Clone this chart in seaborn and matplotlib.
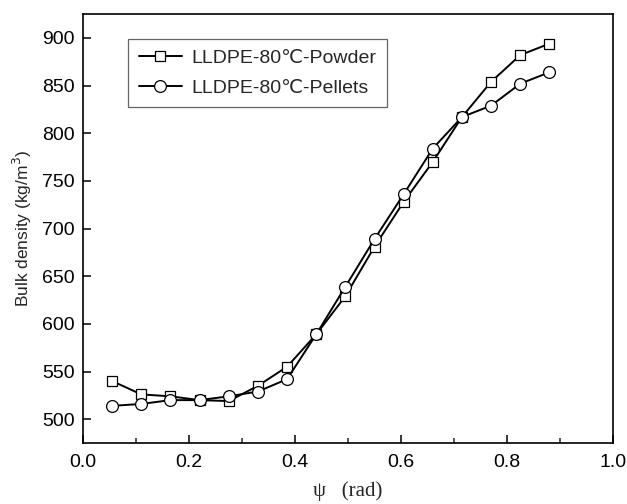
import matplotlib
matplotlib.use("Agg")
import matplotlib.pyplot as plt
from matplotlib.ticker import MultipleLocator
import seaborn as sns
import pandas as pd

psi = [0.055, 0.11, 0.165, 0.22, 0.275, 0.33, 0.385, 0.44,
       0.495, 0.55, 0.605, 0.66, 0.715, 0.77, 0.825, 0.88]
powder = [540, 526, 524, 520, 519, 535, 555, 589,
          629, 681, 728, 770, 817, 854, 882, 894]
pellets = [514, 516, 520, 520, 524, 529, 542, 589,
           639, 689, 736, 784, 817, 829, 852, 864]
labels = ["LLDPE-80℃-Powder", "LLDPE-80℃-Pellets"]

sns.set_theme(style="ticks")
plt.rcParams['font.family'] = ['Liberation Sans', 'DejaVu Sans']

fig = plt.figure(figsize=(6.27, 5.04), dpi=100)
ax = fig.add_axes([0.1324, 0.121, 0.8453, 0.851])

df_p = pd.DataFrame({"x": psi, "y": powder})
df_l = pd.DataFrame({"x": psi, "y": pellets})
sns.lineplot(data=df_p, x="x", y="y", ax=ax, color="black", lw=1.4, sort=False,
             marker="s", markersize=7.5, markerfacecolor="white",
             markeredgecolor="black", markeredgewidth=0.9, label=labels[0])
sns.lineplot(data=df_l, x="x", y="y", ax=ax, color="black", lw=1.4, sort=False,
             marker="o", markersize=8.5, markerfacecolor="white",
             markeredgecolor="black", markeredgewidth=0.9, label=labels[1])

ax.set_xlim(0, 1.0)
ax.set_ylim(475, 925)
ax.xaxis.set_major_locator(MultipleLocator(0.2))
ax.xaxis.set_minor_locator(MultipleLocator(0.1))
ax.yaxis.set_major_locator(MultipleLocator(50))
ax.xaxis.set_major_formatter(matplotlib.ticker.FormatStrFormatter('%.1f'))
ax.tick_params(axis='both', which='major', direction='in', length=6, width=1.1,
               labelsize=14, color='black', labelcolor='black')
ax.tick_params(axis='x', which='major', pad=8)
ax.tick_params(axis='y', which='major', pad=6)
ax.tick_params(axis='both', which='minor', direction='in', length=3.5, width=1.1)
for s in ax.spines.values():
    s.set_linewidth(1.2)
    s.set_color('black')

ax.set_xlabel("ψ   (rad)", family=['Liberation Serif', 'DejaVu Serif'], fontsize=15, labelpad=7)
ax.set_ylabel("Bulk density (kg/m$^3$)", fontsize=12.5, labelpad=6)

leg = ax.legend(loc='upper left', bbox_to_anchor=(0.085, 0.942), fontsize=14,
                frameon=True, fancybox=False, edgecolor='#666666', framealpha=1,
                handlelength=2.2, handletextpad=0.5, borderpad=0.55, labelspacing=0.6,
                borderaxespad=0)
leg.get_frame().set_linewidth(0.9)

fig.savefig("out.png", dpi=100)
